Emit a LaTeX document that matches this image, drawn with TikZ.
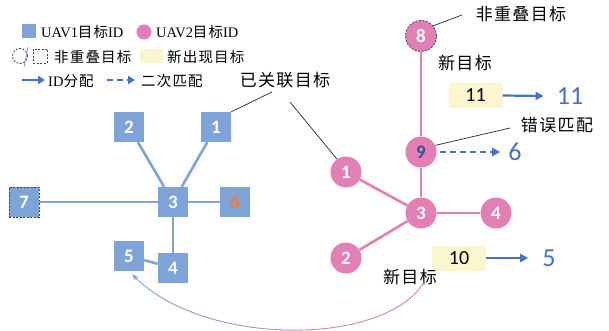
\documentclass[tikz,border=0pt]{standalone}
\usepackage{fontspec}
\setmainfont{Liberation Serif}
\newfontfamily\cjk[LetterSpace=8]{Noto Sans CJK SC}
\newfontfamily\numf{Carlito}
\usetikzlibrary{arrows.meta}
\definecolor{sqblue}{RGB}{126,163,216}
\definecolor{cpink}{RGB}{226,128,182}
\definecolor{idblue}{RGB}{68,114,196}
\definecolor{newyel}{RGB}{252,246,206}
\definecolor{dashbd}{RGB}{55,65,110}
\definecolor{numorange}{RGB}{237,125,49}
\tikzset{
  sq/.style={fill=sqblue, minimum size=30pt, inner sep=0pt, text=white, font=\numf\bfseries\fontsize{19}{19}\selectfont},
  cir/.style={circle, fill=cpink, minimum size=31pt, inner sep=0pt, text=white, font=\numf\bfseries\fontsize{19}{19}\selectfont},
  bedge/.style={draw=sqblue, line width=2.6pt},
  pedge/.style={draw=cpink, line width=2.6pt},
  lbl/.style={inner sep=0pt, font=\cjk\fontsize{17}{17}\selectfont},
  lgd/.style={inner sep=0pt, anchor=west, font=\fontsize{14.5}{15}\selectfont},
  leader/.style={draw=black!85, line width=0.7pt},
  newbox/.style={fill=newyel, minimum width=54pt, minimum height=25pt, inner sep=0pt, font=\numf\fontsize{20}{20}\selectfont},
  idtxt/.style={inner sep=0pt, text=idblue, font=\numf\fontsize{26}{26}\selectfont},
  idarrow/.style={draw=idblue, line width=2.2pt, -{Triangle[length=8pt,width=8pt]}},
  dborder/.style={draw=dashbd, line width=0.8pt, dash pattern=on 2pt off 1.5pt}
}
\begin{document}
\begin{tikzpicture}[x=1pt,y=-1pt]
\useasboundingbox (0,0) rectangle (609,331);
% ---------- legend ----------
\node[fill=sqblue, minimum size=14pt, inner sep=0pt] (lgsq) at (29,31) {};
\node[lgd] (lgt1) at (41,32) {UAV1{\cjk 目标}ID};
\node[circle, fill=cpink, minimum size=15pt, inner sep=0pt] (lgci) at (144,32) {};
\node[lgd] (lgt2) at (156,32) {UAV2{\cjk 目标}ID};
\node[circle, dborder, minimum size=15pt, inner sep=0pt] (lgdc) at (20,56) {};
\coordinate (sl1) at (28,47);
\coordinate (sl2) at (24,67);
\draw[gray, line width=0.6pt] (sl1) -- (sl2);
\node[dborder, minimum size=14pt, inner sep=0pt] (lgds) at (40,56) {};
\node[lgd] (lgt3) at (54,57) {\cjk 非重叠目标};
\node[fill=newyel, minimum width=23pt, minimum height=14pt, inner sep=0pt] (lgyl) at (151.5,56) {};
\node[lgd] (lgt4) at (167,57) {\cjk 新出现目标};
\coordinate (la1) at (22,80);
\coordinate (la2) at (45,80);
\draw[idarrow, line width=2.4pt, -{Triangle[length=7pt,width=8pt]}] (la1) -- (la2);
\node[lgd] (lgt5) at (48,81) {ID{\cjk 分配}};
\coordinate (lb1) at (107,80);
\coordinate (lb2) at (135,80);
\draw[idarrow, line width=2.4pt, dash pattern=on 6pt off 4pt, -{Triangle[length=7pt,width=8pt]}] (lb1) -- (lb2);
\node[lgd] (lgt6) at (141,81) {\cjk 二次匹配};
% ---------- UAV1 graph ----------
\node[sq] (b2) at (129,127) {2};
\node[sq] (b1) at (216,127) {1};
\node[sq, dborder] (b7) at (24,202) {7};
\node[sq] (b3) at (173,202) {3};
\node[sq, text=numorange] (b6) at (235,202) {6};
\node[sq] (b5) at (129,256) {5};
\node[sq] (b4) at (173,268) {4};
\draw[bedge] (b2) -- (b3);
\draw[bedge] (b1) -- (b3);
\draw[bedge] (b7) -- (b3);
\draw[bedge] (b3) -- (b6);
\draw[bedge] (b3) -- (b4);
\draw[bedge] (b5) -- (b4);
% ---------- UAV2 graph ----------
\node[cir, dborder] (p8) at (421,36) {8};
\node[cir, text=idblue!75!black] (p9) at (421,152) {9};
\node[cir] (p1) at (346,172) {1};
\node[cir] (p3) at (421,213) {3};
\node[cir] (p4) at (496,213) {4};
\node[cir] (p2) at (346,258) {2};
\draw[pedge, line width=2pt] (p8) -- (p9);
\draw[pedge] (p9) -- (p3);
\draw[pedge] (p1) -- (p3);
\draw[pedge] (p3) -- (p4);
\draw[pedge] (p2) -- (p3);
% ---------- labels ----------
\node[lbl] (assoc) at (285,80) {已关联目标};
\coordinate (ld1) at (272,92);
\coordinate (ld2) at (290,102);
\draw[leader] (b1.north east) -- (ld1);
\draw[leader] (ld2) -- (p1.125);
\node[lbl] (nonov) at (521,14) {非重叠目标};
\coordinate (ld3) at (462,15);
\draw[leader] (p8.40) -- (ld3);
\node[lbl] (newt1) at (465,63) {新目标};
\node[newbox] (n11) at (475.5,95.5) {11};
\node[idtxt] (id11) at (570,96) {11};
\draw[idarrow] (n11.east) -- ([xshift=-13pt]id11.west);
\node[lbl] (wrong) at (557,125) {错误匹配};
\coordinate (ld4) at (510,128);
\draw[leader] (p9.25) -- (ld4);
\node[idtxt] (id6) at (515,152) {6};
\draw[idarrow, dash pattern=on 6pt off 4pt] ([xshift=3pt]p9.east) -- ([xshift=-8pt]id6.west);
\node[newbox] (n10) at (459,258) {10};
\node[idtxt] (id5) at (549,258) {5};
\draw[idarrow] (n10.east) -- ([xshift=-14pt]id5.west);
\node[lbl] (newt2) at (410,277) {新目标};
% ---------- gradient curve ----------
\coordinate (cs) at (424,282);
\foreach \k in {0,...,31} {
  \pgfmathsetmacro{\pp}{min(100,max(0,100*(\k-3)/26))}
  \begin{scope}
    \clip (120+\k*10,255) rectangle ++(10,80);
    \draw[cpink!\pp!sqblue, line width=0.9pt, -{Stealth[length=7pt,width=5pt]}]
      (cs) .. controls (385,347) and (205,347) .. ([xshift=3pt,yshift=-3pt]b5.south);
  \end{scope}
}
\end{tikzpicture}
\end{document}
